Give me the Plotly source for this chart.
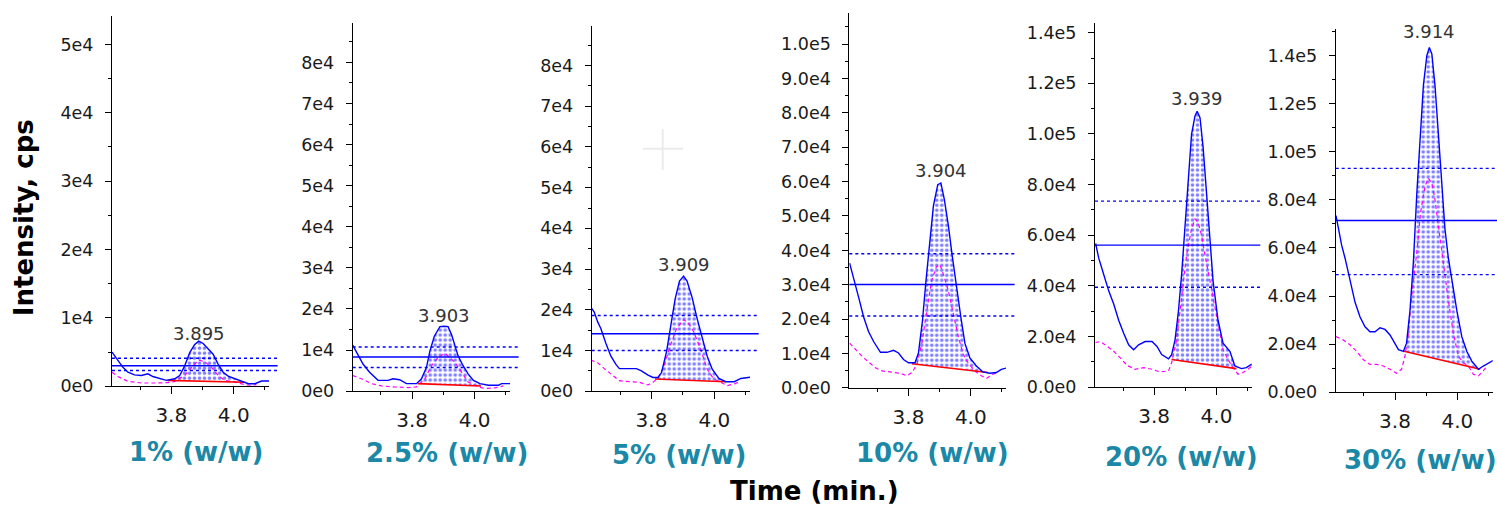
import numpy as np
import plotly.graph_objects as go

# ---------------- data ----------------
panel_labels = ["1% (w/w)", "2.5% (w/w)", "5% (w/w)", "10% (w/w)", "20% (w/w)", "30% (w/w)"]
rt_labels = ["3.895", "3.903", "3.909", "3.904", "3.939", "3.914"]
x_tick_vals = [3.8, 4.0]
x_tick_text = ["3.8", "4.0"]
x_minor_vals = [3.7, 3.9, 4.1]

# 1% (w/w)
time_1 = [3.610, 3.618, 3.629, 3.645, 3.661, 3.682, 3.704, 3.725, 3.741, 3.768, 3.784, 3.811, 3.827, 3.843,
          3.859, 3.875, 3.888, 3.902, 3.918, 3.934, 3.950, 3.966, 3.982, 4.004, 4.025, 4.047, 4.068, 4.089, 4.122]
xic_1 = [5000, 4450, 3730, 2770, 2060, 1670, 1580, 1820, 1430, 1000, 860, 1100, 1580, 3010,
         4920, 6120, 6600, 6260, 5500, 4680, 3250, 2060, 1480, 1100, 720, 380, 380, 770, 770]
time2_1 = [3.610, 3.629, 3.661, 3.704, 3.746, 3.789, 3.811, 3.843, 3.870, 3.888, 3.907, 3.929, 3.950, 3.971,
           4.004, 4.036, 4.057, 4.073]
ion2_1 = [2060, 1430, 720, 480, 480, 530, 720, 1580, 3010, 3820, 3590, 2770, 1580, 860, 620, 240, 140, 240]
base_t_1 = [3.788, 4.035]
base_v_1 = [870, 600]
limits_1 = [4100, 3000, 2300]
yrange_1 = [0, 54200]
ytick_vals_1 = [0, 10000, 20000, 30000, 40000, 50000]
ytick_text_1 = ["0e0", "1e4", "2e4", "3e4", "4e4", "5e4"]

# 2.5% (w/w)
time_2 = [3.610, 3.627, 3.643, 3.664, 3.691, 3.723, 3.739, 3.760, 3.782, 3.814, 3.830, 3.846, 3.857, 3.871,
          3.889, 3.902, 3.915, 3.926, 3.937, 3.947, 3.963, 3.979, 3.996, 4.017, 4.044, 4.076, 4.086, 4.124]
xic_2 = [11200, 9000, 6600, 4600, 2630, 2630, 3020, 2790, 1830, 1830, 3020, 5810, 9790, 13370,
         15700, 15800, 15700, 13770, 10980, 8600, 6200, 4220, 2630, 1830, 1430, 1430, 1830, 1830]
time2_2 = [3.610, 3.638, 3.670, 3.702, 3.744, 3.787, 3.814, 3.841, 3.862, 3.883, 3.905, 3.921, 3.937, 3.958,
           3.979, 4.012, 4.033, 4.065, 4.092]
ion2_2 = [3820, 3020, 1830, 1270, 1030, 880, 1030, 3020, 6200, 8200, 9230, 8200, 7000, 4620,
          2230, 1030, 640, 800, 1270]
base_t_2 = [3.818, 4.020]
base_v_2 = [1830, 1270]
limits_2 = [10750, 8300, 5770]
yrange_2 = [0, 89700]
ytick_vals_2 = [0, 10000, 20000, 30000, 40000, 50000, 60000, 70000, 80000]
ytick_text_2 = ["0e0", "1e4", "2e4", "3e4", "4e4", "5e4", "6e4", "7e4", "8e4"]

# 5% (w/w)
time_3 = [3.607, 3.618, 3.629, 3.639, 3.655, 3.671, 3.687, 3.698, 3.752, 3.768, 3.789, 3.805, 3.821, 3.832,
          3.848, 3.864, 3.875, 3.889, 3.902, 3.913, 3.929, 3.945, 3.961, 3.977, 3.993, 4.014, 4.036, 4.063,
          4.084, 4.105, 4.122]
xic_3 = [20640, 19430, 17020, 15420, 11800, 8590, 6580, 5540, 5540, 4980, 3930, 3370, 3370, 4580,
         9800, 17020, 22640, 27060, 28270, 27060, 23050, 17830, 13010, 8590, 5380, 3130, 2330, 2330,
         3130, 3370, 3530]
time2_3 = [3.607, 3.629, 3.650, 3.671, 3.698, 3.730, 3.762, 3.789, 3.805, 3.821, 3.838, 3.859, 3.880, 3.902,
           3.918, 3.934, 3.955, 3.977, 3.998, 4.020, 4.041, 4.063, 4.079]
ion2_3 = [7630, 6990, 5540, 4180, 2570, 2330, 2170, 1530, 2170, 3370, 5780, 11000, 15420, 17590,
          16620, 14610, 10600, 5380, 2970, 2170, 1370, 1770, 2330]
base_t_3 = [3.811, 4.036]
base_v_3 = [3000, 2330]
limits_3 = [18600, 14100, 10000]
yrange_3 = [0, 89600]
ytick_vals_3 = [0, 10000, 20000, 30000, 40000, 50000, 60000, 70000, 80000]
ytick_text_3 = ["0e0", "1e4", "2e4", "3e4", "4e4", "5e4", "6e4", "7e4", "8e4"]

# 10% (w/w)
time_4 = [3.611, 3.624, 3.640, 3.656, 3.672, 3.688, 3.710, 3.731, 3.752, 3.768, 3.784, 3.800, 3.821, 3.832,
          3.845, 3.856, 3.869, 3.880, 3.894, 3.904, 3.915, 3.928, 3.940, 3.954, 3.968, 3.981, 3.997, 4.018,
          4.039, 4.061, 4.082, 4.098, 4.119]
xic_4 = [36310, 32030, 26330, 20630, 16350, 13500, 10360, 10360, 10930, 10170, 8270, 7320, 7320, 10170,
         19680, 31080, 43440, 52950, 59130, 59600, 54850, 47240, 38690, 29180, 20630, 13020, 8750, 6370,
         4660, 4280, 4470, 5420, 5890]
time2_4 = [3.611, 3.630, 3.651, 3.672, 3.694, 3.715, 3.747, 3.773, 3.795, 3.811, 3.827, 3.843, 3.859, 3.874,
           3.890, 3.901, 3.912, 3.928, 3.944, 3.960, 3.976, 3.991, 4.013, 4.034, 4.050, 4.071, 4.087]
ion2_4 = [13020, 11120, 9220, 7510, 5890, 4940, 4660, 4280, 3520, 4470, 6840, 13020, 22530, 31080,
          35360, 35840, 32990, 28230, 21580, 14920, 9700, 7320, 4940, 3520, 2760, 3990, 4470]
base_t_4 = [3.811, 4.055]
base_v_4 = [7030, 4470]
limits_4 = [39000, 30100, 20900]
yrange_4 = [0, 109100]
ytick_vals_4 = [0, 10000, 20000, 30000, 40000, 50000, 60000, 70000, 80000, 90000, 100000]
ytick_text_4 = ["0.0e0", "1.0e4", "2.0e4", "3.0e4", "4.0e4", "5.0e4", "6.0e4", "7.0e4", "8.0e4", "9.0e4", "1.0e5"]

# 20% (w/w)
time_5 = [3.612, 3.622, 3.638, 3.654, 3.670, 3.686, 3.702, 3.718, 3.734, 3.750, 3.771, 3.793, 3.809, 3.824,
          3.846, 3.856, 3.867, 3.878, 3.888, 3.899, 3.910, 3.920, 3.931, 3.938, 3.947, 3.957, 3.968, 3.979,
          3.989, 4.005, 4.021, 4.043, 4.059, 4.080, 4.096, 4.112, 4.122]
xic_5 = [56760, 50960, 44500, 38060, 32900, 26450, 21290, 16770, 14840, 16770, 18060, 18060, 16130, 12900,
         11220, 12900, 18710, 30320, 44500, 62570, 84500, 99980, 107070, 109000, 106420, 94820, 76760, 57410,
         41930, 26450, 17420, 14190, 8390, 7350, 7740, 9030, 8130]
time2_5 = [3.612, 3.628, 3.649, 3.670, 3.691, 3.713, 3.739, 3.766, 3.793, 3.819, 3.846, 3.856, 3.872, 3.888,
           3.904, 3.920, 3.931, 3.941, 3.952, 3.963, 3.979, 3.995, 4.005, 4.021, 4.037, 4.053, 4.069, 4.085,
           4.101, 4.117]
ion2_5 = [17670, 18060, 16130, 14190, 11610, 8640, 7100, 7740, 7100, 6060, 6450, 9680, 18710, 36770,
          52250, 62570, 66440, 65150, 60000, 52250, 41930, 31610, 23870, 14840, 10970, 7740, 5160, 5810,
          7100, 8640]
base_t_5 = [3.856, 4.064]
base_v_5 = [10970, 7350]
limits_5 = [73500, 56100, 39500]
yrange_5 = [0, 144000]
ytick_vals_5 = [0, 20000, 40000, 60000, 80000, 100000, 120000, 140000]
ytick_text_5 = ["0.0e0", "2.0e4", "4.0e4", "6.0e4", "8.0e4", "1.0e5", "1.2e5", "1.4e5"]

# 30% (w/w)
time_6 = [3.611, 3.618, 3.629, 3.640, 3.650, 3.661, 3.672, 3.688, 3.704, 3.720, 3.736, 3.752, 3.768, 3.784,
          3.800, 3.811, 3.827, 3.837, 3.848, 3.859, 3.870, 3.880, 3.891, 3.902, 3.910, 3.918, 3.928, 3.939,
          3.950, 3.960, 3.971, 3.982, 3.998, 4.014, 4.030, 4.046, 4.067, 4.083, 4.099, 4.116]
xic_6 = [73390, 67950, 61160, 55720, 49600, 43490, 37370, 31260, 27180, 25140, 25140, 26770, 26090, 23780,
         20390, 17670, 16990, 20390, 33980, 54360, 82900, 106000, 127750, 139980, 143380, 140660, 127750, 107360,
         86980, 67950, 55720, 46210, 33980, 23100, 16990, 12910, 9510, 10870, 12230, 13320]
time2_6 = [3.611, 3.634, 3.656, 3.677, 3.698, 3.720, 3.741, 3.763, 3.784, 3.805, 3.821, 3.832, 3.843, 3.853,
           3.870, 3.882, 3.896, 3.907, 3.918, 3.928, 3.939, 3.955, 3.971, 3.987, 4.003, 4.019, 4.035, 4.051,
           4.067, 4.083, 4.094]
ion2_6 = [23100, 21740, 19710, 16990, 13590, 11550, 11550, 10870, 9510, 7880, 9510, 14950, 24460, 39410,
          58440, 74750, 85620, 89010, 86980, 80180, 69310, 53000, 38050, 24460, 14950, 12230, 10870, 7470,
          6800, 8830, 10870]
base_t_6 = [3.829, 4.073]
base_v_6 = [16990, 9510]
limits_6 = [93100, 71400, 48900]
yrange_6 = [0, 150900]
ytick_vals_6 = [0, 20000, 40000, 60000, 80000, 100000, 120000, 140000]
ytick_text_6 = ["0.0e0", "2.0e4", "4.0e4", "6.0e4", "8.0e4", "1.0e5", "1.2e5", "1.4e5"]

x_range = [3.61, 4.113]

# ---------------- layout geometry (pixels in a 1497x510 canvas) ----------------
W, H = 1497, 510
x_px = [(112, 269), (352.7, 510), (591.7, 750), (849.3, 1006), (1095, 1251.7), (1335.7, 1492.7)]
y_px = [(16, 394), (23, 399), (27, 399), (13, 395.7), (23, 395), (30, 400)]
minor_dticks = [5000, 5000, 5000, 5000, 10000, 10000]
label_px = [(196, 461), (446.7, 462), (679, 463.7), (932.5, 462), (1181.7, 466), (1420.8, 468.8)]
rt_yshift = [8, 11, 12, 12, 13, 16]
line_ext = 0.055

panels = [
    (time_1, xic_1, time2_1, ion2_1, base_t_1, base_v_1, limits_1, yrange_1, ytick_vals_1, ytick_text_1),
    (time_2, xic_2, time2_2, ion2_2, base_t_2, base_v_2, limits_2, yrange_2, ytick_vals_2, ytick_text_2),
    (time_3, xic_3, time2_3, ion2_3, base_t_3, base_v_3, limits_3, yrange_3, ytick_vals_3, ytick_text_3),
    (time_4, xic_4, time2_4, ion2_4, base_t_4, base_v_4, limits_4, yrange_4, ytick_vals_4, ytick_text_4),
    (time_5, xic_5, time2_5, ion2_5, base_t_5, base_v_5, limits_5, yrange_5, ytick_vals_5, ytick_text_5),
    (time_6, xic_6, time2_6, ion2_6, base_t_6, base_v_6, limits_6, yrange_6, ytick_vals_6, ytick_text_6),
]

BLUE = "#0000ff"
MAGENTA = "#ff00ff"
RED = "#ff0000"
TEAL = "#1a88a6"
FONT = "DejaVu Sans"
TXT = "#1a1a1a"

fig = go.Figure()
shapes = []
annotations = []
layout_axes = {}

for i, (t, v, t2, v2, bt, bv, lim, yr, ytv, ytt) in enumerate(panels):
    n = i + 1
    sfx = "" if n == 1 else str(n)
    xa, ya = "x" + sfx, "y" + sfx

    # integrated peak area (dotted pattern) between baseline and XIC
    ta = np.array(t)
    va = np.array(v)
    inside = (ta > bt[0]) & (ta < bt[1])
    poly_x = [bt[0]] + ta[inside].tolist() + [bt[1], bt[0]]
    poly_y = [bv[0]] + va[inside].tolist() + [bv[1], bv[0]]
    fig.add_trace(go.Scatter(
        x=poly_x, y=poly_y, xaxis=xa, yaxis=ya, mode="lines",
        line=dict(width=0, color=BLUE), fill="toself", fillcolor="rgba(0,0,0,0)",
        fillpattern=dict(shape=".", fgcolor=BLUE, bgcolor="rgba(255,255,255,0)", size=5, solidity=0.4),
        hoverinfo="skip"))
    # second ion trace (magenta dashed)
    fig.add_trace(go.Scatter(x=t2, y=v2, xaxis=xa, yaxis=ya, mode="lines",
                             line=dict(color=MAGENTA, width=1.2, dash="4px,3px")))
    # baseline
    fig.add_trace(go.Scatter(x=bt, y=bv, xaxis=xa, yaxis=ya, mode="lines",
                             line=dict(color=RED, width=1.6)))
    # XIC
    fig.add_trace(go.Scatter(x=t, y=v, xaxis=xa, yaxis=ya, mode="lines",
                             line=dict(color=BLUE, width=1.4)))

    # ratio / threshold horizontal lines
    for val, dash in zip(lim, ["dot", "solid", "dot"]):
        shapes.append(dict(type="line", xref=f"{xa} domain", yref=ya, x0=0, x1=1 + line_ext,
                           y0=val, y1=val, line=dict(color=BLUE, width=1.4, dash=dash)))

    # retention time label at apex
    k = int(np.argmax(va))
    annotations.append(dict(x=ta[k], y=va[k], xref=xa, yref=ya, text=rt_labels[i], showarrow=False,
                            yanchor="middle", yshift=rt_yshift[i],
                            font=dict(family=FONT, size=18, color="#333333")))

    # concentration label
    lx, ly = label_px[i]
    annotations.append(dict(x=lx / W, y=1 - ly / H, xref="paper", yref="paper", text=panel_labels[i],
                            showarrow=False, xanchor="center", yanchor="middle",
                            font=dict(family=FONT, size=26, color=TEAL, weight="bold")))

    x0p, x1p = x_px[i]
    y0p, y1p = y_px[i]
    layout_axes["xaxis" + sfx] = dict(
        domain=[x0p / W, x1p / W], anchor=ya, range=x_range, showline=True, linecolor="black", linewidth=1,
        tickmode="array", tickvals=x_tick_vals, ticktext=x_tick_text, ticks="outside", ticklen=7,
        tickcolor="black", tickwidth=1, showgrid=False, zeroline=False, ticklabelstandoff=4,
        tickfont=dict(family=FONT, size=20, color=TXT),
        minor=dict(tickmode="array", tickvals=x_minor_vals, ticks="outside", ticklen=3, tickcolor="black"))
    layout_axes["yaxis" + sfx] = dict(
        domain=[1 - y1p / H, 1 - y0p / H], anchor=xa, range=yr, showline=True, linecolor="black", linewidth=1,
        tickmode="array", tickvals=ytv, ticktext=ytt, ticks="outside", ticklen=6, tickcolor="black",
        tickwidth=1, showgrid=False, zeroline=False, ticklabelstandoff=8,
        tickfont=dict(family=FONT, size=17.5, color=TXT),
        minor=dict(tickmode="linear", tick0=0, dtick=minor_dticks[i], ticks="outside", ticklen=3,
                   tickcolor="black"))

# faint cursor cross in the 5% panel
shapes.append(dict(type="line", xref="paper", yref="paper", x0=643 / W, x1=683 / W,
                   y0=1 - 151.7 / H, y1=1 - 151.7 / H, line=dict(color="#ebebeb", width=2)))
shapes.append(dict(type="line", xref="paper", yref="paper", x0=662.7 / W, x1=662.7 / W,
                   y0=1 - 173.3 / H, y1=1 - 131.7 / H, line=dict(color="#ebebeb", width=2)))

# axis titles
annotations.append(dict(x=24 / W, y=1 - 222.5 / H, xref="paper", yref="paper", text="Intensity, cps",
                        textangle=-90, showarrow=False, xanchor="center", yanchor="middle",
                        font=dict(family=FONT, size=26, color="black", weight="bold")))
annotations.append(dict(x=814 / W, y=1 - 501 / H, xref="paper", yref="paper", text="Time (min.)",
                        showarrow=False, xanchor="center", yanchor="middle",
                        font=dict(family=FONT, size=26, color="black", weight="bold")))

fig.update_layout(
    width=W, height=H, margin=dict(l=0, r=0, t=0, b=0),
    paper_bgcolor="white", plot_bgcolor="white", showlegend=False,
    shapes=shapes, annotations=annotations, **layout_axes)

fig.write_html("out.html", config={"displayModeBar": False},
               post_script="document.body.style.margin='0px';document.body.style.overflow='hidden';")
